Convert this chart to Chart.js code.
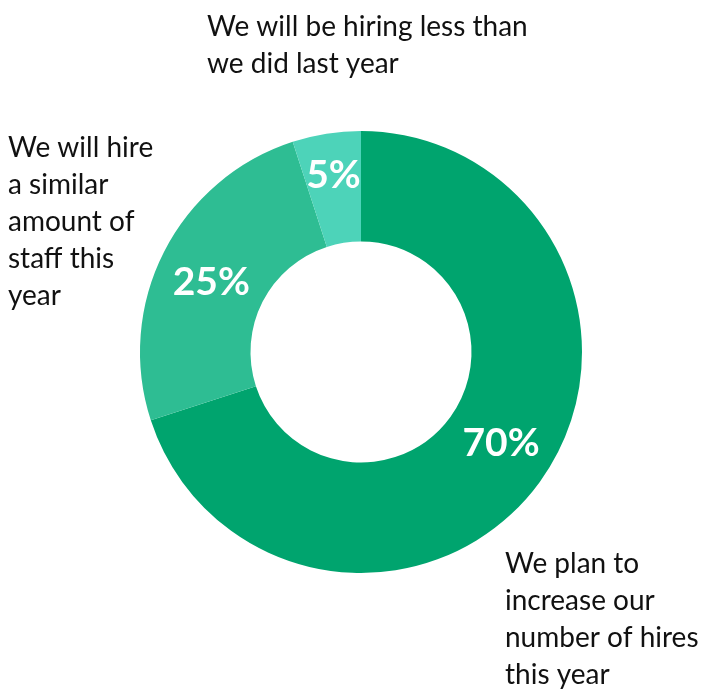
<!DOCTYPE html>
<html>
<head>
<meta charset="utf-8">
<script src="https://cdn.jsdelivr.net/npm/chart.js@4.4.1/dist/chart.umd.min.js"></script>
<style>
  html, body { margin: 0; padding: 0; background: #ffffff; }
  #wrap { position: relative; width: 707px; height: 693px; }
</style>
</head>
<body>
<div id="wrap"><canvas id="chart"></canvas></div>
<script>
// Survey answers, share of respondents (%)
const categories = [
  'We plan to increase our number of hires this year',
  'We will hire a similar amount of staff this year',
  'We will be hiring less than we did last year'
];
const shares = [70, 25, 5];
const sliceColors = ['#00a46e', '#2ebd93', '#4dd3b9'];

// Wrapped caption lines placed around the ring
const captionLines = [
  ['We plan to', 'increase our', 'number of hires', 'this year'],
  ['We will hire', 'a similar', 'amount of', 'staff this', 'year'],
  ['We will be hiring less than', 'we did last year']
];
const captionAnchors = [
  { x: 505, y: 573 },
  { x: 8, y: 157 },
  { x: 207, y: 36 }
];
const captionLineHeight = 37;
const captionFont = '400 28px Lato, "Open Sans", sans-serif';

// Percentage labels sit inside each slice, slightly nudged
const valueNudge = [{ dx: 6, dy: -6 }, { dx: -2, dy: 6 }, { dx: 0, dy: -3 }];
const valueFont = '700 39px Lato, "Open Sans", sans-serif';

const labelPlugin = {
  id: 'ringLabels',
  afterDatasetsDraw(chart) {
    const ctx = chart.ctx;
    const meta = chart.getDatasetMeta(0);
    ctx.save();
    // values inside the ring, from each arc's own geometry
    ctx.fillStyle = '#ffffff';
    ctx.font = valueFont;
    ctx.textAlign = 'center';
    ctx.textBaseline = 'middle';
    meta.data.forEach((arc, i) => {
      const p = arc.getProps(['x', 'y', 'startAngle', 'endAngle', 'innerRadius', 'outerRadius'], true);
      const mid = (p.startAngle + p.endAngle) / 2;
      const r = (p.innerRadius + p.outerRadius) / 2 + (i === 2 ? 10 : 0);
      const x = p.x + Math.cos(mid) * r + valueNudge[i].dx;
      const y = p.y + Math.sin(mid) * r + valueNudge[i].dy;
      ctx.fillText(shares[i] + '%', x, y);
    });
    // captions outside the ring
    ctx.fillStyle = '#111111';
    ctx.font = captionFont;
    ctx.textAlign = 'left';
    ctx.textBaseline = 'alphabetic';
    captionLines.forEach((lines, i) => {
      lines.forEach((line, j) => {
        ctx.fillText(line, captionAnchors[i].x, captionAnchors[i].y + j * captionLineHeight);
      });
    });
    ctx.restore();
  }
};

new Chart(document.getElementById('chart'), {
  type: 'doughnut',
  data: {
    labels: categories,
    datasets: [{
      data: shares,
      backgroundColor: sliceColors,
      borderWidth: 0,
      hoverOffset: 0
    }]
  },
  options: {
    responsive: true,
    maintainAspectRatio: false,
    animation: false,
    cutout: '50%',
    layout: { padding: { left: 140, right: 125, top: 131, bottom: 120 } },
    plugins: {
      legend: { display: false },
      tooltip: { enabled: false }
    }
  },
  plugins: [labelPlugin]
});
</script>
</body>
</html>
